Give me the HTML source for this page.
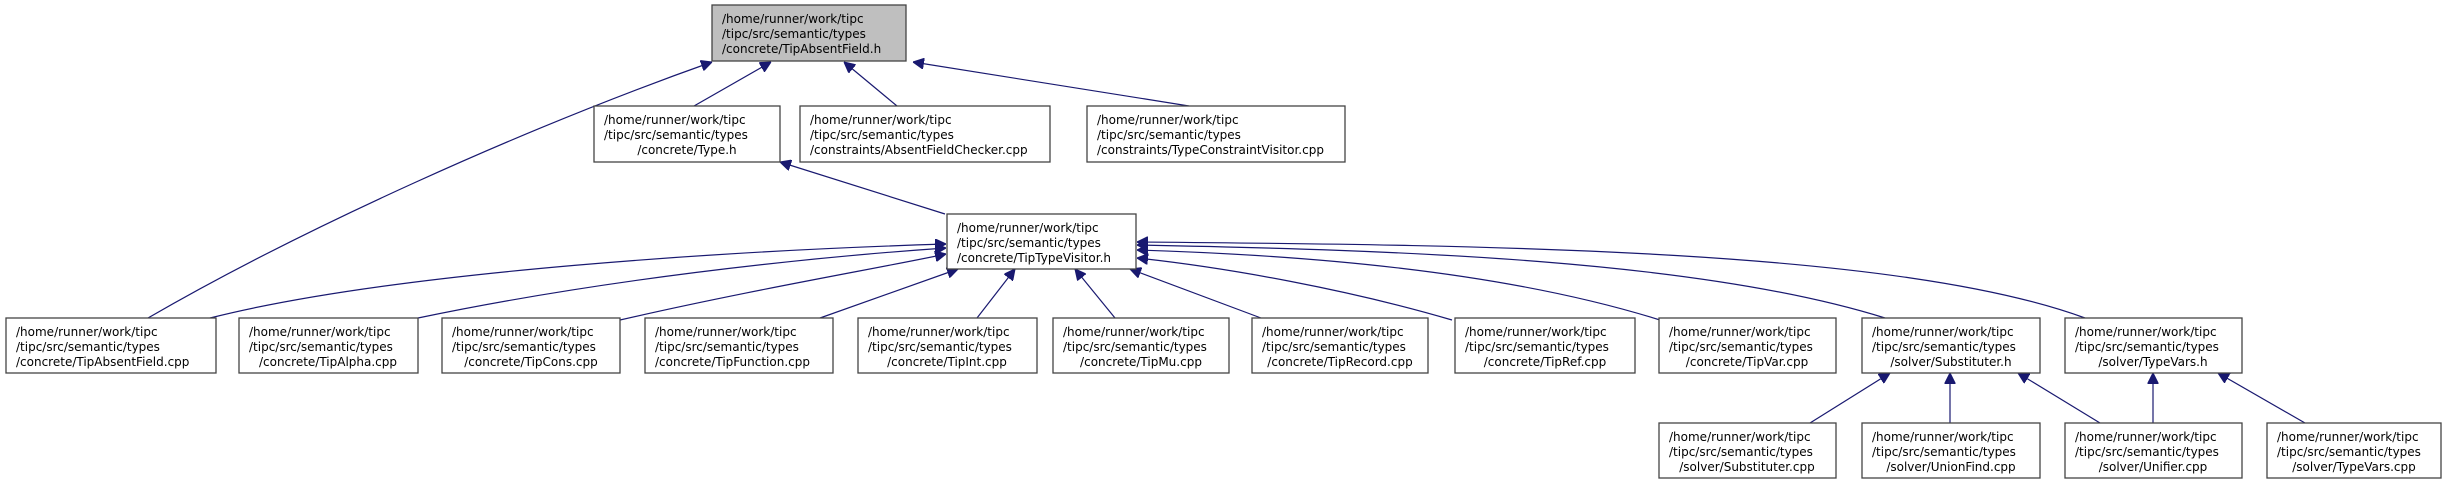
<!DOCTYPE html>
<html><head><meta charset="utf-8"><style>
html,body{margin:0;padding:0;background:#fff;}
svg{display:block;}
text{font-family:"DejaVu Sans","Liberation Sans",sans-serif;font-size:12px;fill:#000;}
.b{fill:#fff;stroke:#444;stroke-width:1.3;}
.e{fill:none;stroke:#191970;stroke-width:1.2;}
</style></head><body>
<svg width="2445" height="483" viewBox="0 0 2445 483" xmlns="http://www.w3.org/2000/svg">
<defs><marker id="a" viewBox="0 0 10 10" refX="10" refY="5" markerWidth="11" markerHeight="11" markerUnits="userSpaceOnUse" orient="auto"><path d="M0,0 L10,5 L0,10 z" fill="#191970" stroke="#191970"/></marker></defs>

<!-- edges -->
<g class="e" marker-end="url(#a)">
<path d="M148,318 C300,230 520,130 712,62"/>
<path d="M694,106 L771,62"/>
<path d="M897,106 L844,62"/>
<path d="M1189,106 L913,62"/>
<path d="M945,214 L780,162"/>
<path d="M210,318 C400,270 750,250 946,244"/>
<path d="M418,318 C600,280 800,258 946,248"/>
<path d="M620,320 C750,290 880,268 946,254"/>
<path d="M820,318 L958,269"/>
<path d="M977,318 L1015,269"/>
<path d="M1115,318 L1075,269"/>
<path d="M1261,318 L1130,269"/>
<path d="M1452,320 C1350,290 1230,268 1137,258"/>
<path d="M1660,320 C1500,270 1300,255 1137,250"/>
<path d="M1885,318 C1700,260 1400,250 1137,245"/>
<path d="M2085,318 C1900,250 1500,245 1137,242"/>
<path d="M1810,423 L1890,373"/>
<path d="M1950,423 L1950,373"/>
<path d="M2100,423 L2018,373"/>
<path d="M2153,423 L2153,373"/>
<path d="M2305,423 L2218,373"/>
</g>

<!-- nodes -->
<g>
<rect x="712" y="5" width="194" height="56" style="fill:#bfbfbf;stroke:#444;stroke-width:1.3"/>
<text x="722" y="23">/home/runner/work/tipc</text><text x="722" y="38">/tipc/src/semantic/types</text><text x="722" y="53">/concrete/TipAbsentField.h</text>

<rect class="b" x="594" y="106" width="186" height="56"/>
<text x="604" y="124">/home/runner/work/tipc</text><text x="604" y="139">/tipc/src/semantic/types</text><text x="687" y="154" text-anchor="middle">/concrete/Type.h</text>

<rect class="b" x="800" y="106" width="250" height="56"/>
<text x="810" y="124">/home/runner/work/tipc</text><text x="810" y="139">/tipc/src/semantic/types</text><text x="810" y="154">/constraints/AbsentFieldChecker.cpp</text>

<rect class="b" x="1087" y="106" width="258" height="56"/>
<text x="1097" y="124">/home/runner/work/tipc</text><text x="1097" y="139">/tipc/src/semantic/types</text><text x="1097" y="154">/constraints/TypeConstraintVisitor.cpp</text>

<rect class="b" x="947" y="214" width="189" height="55"/>
<text x="957" y="232">/home/runner/work/tipc</text><text x="957" y="247">/tipc/src/semantic/types</text><text x="957" y="262">/concrete/TipTypeVisitor.h</text>

<rect class="b" x="6" y="318" width="210" height="55"/>
<text x="16" y="336">/home/runner/work/tipc</text><text x="16" y="351">/tipc/src/semantic/types</text><text x="16" y="366">/concrete/TipAbsentField.cpp</text>

<rect class="b" x="239" y="318" width="179" height="55"/>
<text x="249" y="336">/home/runner/work/tipc</text><text x="249" y="351">/tipc/src/semantic/types</text><text x="328" y="366" text-anchor="middle">/concrete/TipAlpha.cpp</text>

<rect class="b" x="442" y="318" width="178" height="55"/>
<text x="452" y="336">/home/runner/work/tipc</text><text x="452" y="351">/tipc/src/semantic/types</text><text x="531" y="366" text-anchor="middle">/concrete/TipCons.cpp</text>

<rect class="b" x="645" y="318" width="188" height="55"/>
<text x="655" y="336">/home/runner/work/tipc</text><text x="655" y="351">/tipc/src/semantic/types</text><text x="655" y="366">/concrete/TipFunction.cpp</text>

<rect class="b" x="858" y="318" width="179" height="55"/>
<text x="868" y="336">/home/runner/work/tipc</text><text x="868" y="351">/tipc/src/semantic/types</text><text x="947" y="366" text-anchor="middle">/concrete/TipInt.cpp</text>

<rect class="b" x="1053" y="318" width="176" height="55"/>
<text x="1063" y="336">/home/runner/work/tipc</text><text x="1063" y="351">/tipc/src/semantic/types</text><text x="1141" y="366" text-anchor="middle">/concrete/TipMu.cpp</text>

<rect class="b" x="1252" y="318" width="176" height="55"/>
<text x="1262" y="336">/home/runner/work/tipc</text><text x="1262" y="351">/tipc/src/semantic/types</text><text x="1340" y="366" text-anchor="middle">/concrete/TipRecord.cpp</text>

<rect class="b" x="1455" y="318" width="180" height="55"/>
<text x="1465" y="336">/home/runner/work/tipc</text><text x="1465" y="351">/tipc/src/semantic/types</text><text x="1545" y="366" text-anchor="middle">/concrete/TipRef.cpp</text>

<rect class="b" x="1659" y="318" width="177" height="55"/>
<text x="1669" y="336">/home/runner/work/tipc</text><text x="1669" y="351">/tipc/src/semantic/types</text><text x="1747" y="366" text-anchor="middle">/concrete/TipVar.cpp</text>

<rect class="b" x="1862" y="318" width="178" height="55"/>
<text x="1872" y="336">/home/runner/work/tipc</text><text x="1872" y="351">/tipc/src/semantic/types</text><text x="1951" y="366" text-anchor="middle">/solver/Substituter.h</text>

<rect class="b" x="2065" y="318" width="177" height="55"/>
<text x="2075" y="336">/home/runner/work/tipc</text><text x="2075" y="351">/tipc/src/semantic/types</text><text x="2153" y="366" text-anchor="middle">/solver/TypeVars.h</text>

<rect class="b" x="1659" y="423" width="177" height="55"/>
<text x="1669" y="441">/home/runner/work/tipc</text><text x="1669" y="456">/tipc/src/semantic/types</text><text x="1747" y="471" text-anchor="middle">/solver/Substituter.cpp</text>

<rect class="b" x="1862" y="423" width="178" height="55"/>
<text x="1872" y="441">/home/runner/work/tipc</text><text x="1872" y="456">/tipc/src/semantic/types</text><text x="1951" y="471" text-anchor="middle">/solver/UnionFind.cpp</text>

<rect class="b" x="2065" y="423" width="177" height="55"/>
<text x="2075" y="441">/home/runner/work/tipc</text><text x="2075" y="456">/tipc/src/semantic/types</text><text x="2153" y="471" text-anchor="middle">/solver/Unifier.cpp</text>

<rect class="b" x="2267" y="423" width="174" height="55"/>
<text x="2277" y="441">/home/runner/work/tipc</text><text x="2277" y="456">/tipc/src/semantic/types</text><text x="2354" y="471" text-anchor="middle">/solver/TypeVars.cpp</text>
</g>
</svg>
</body></html>
